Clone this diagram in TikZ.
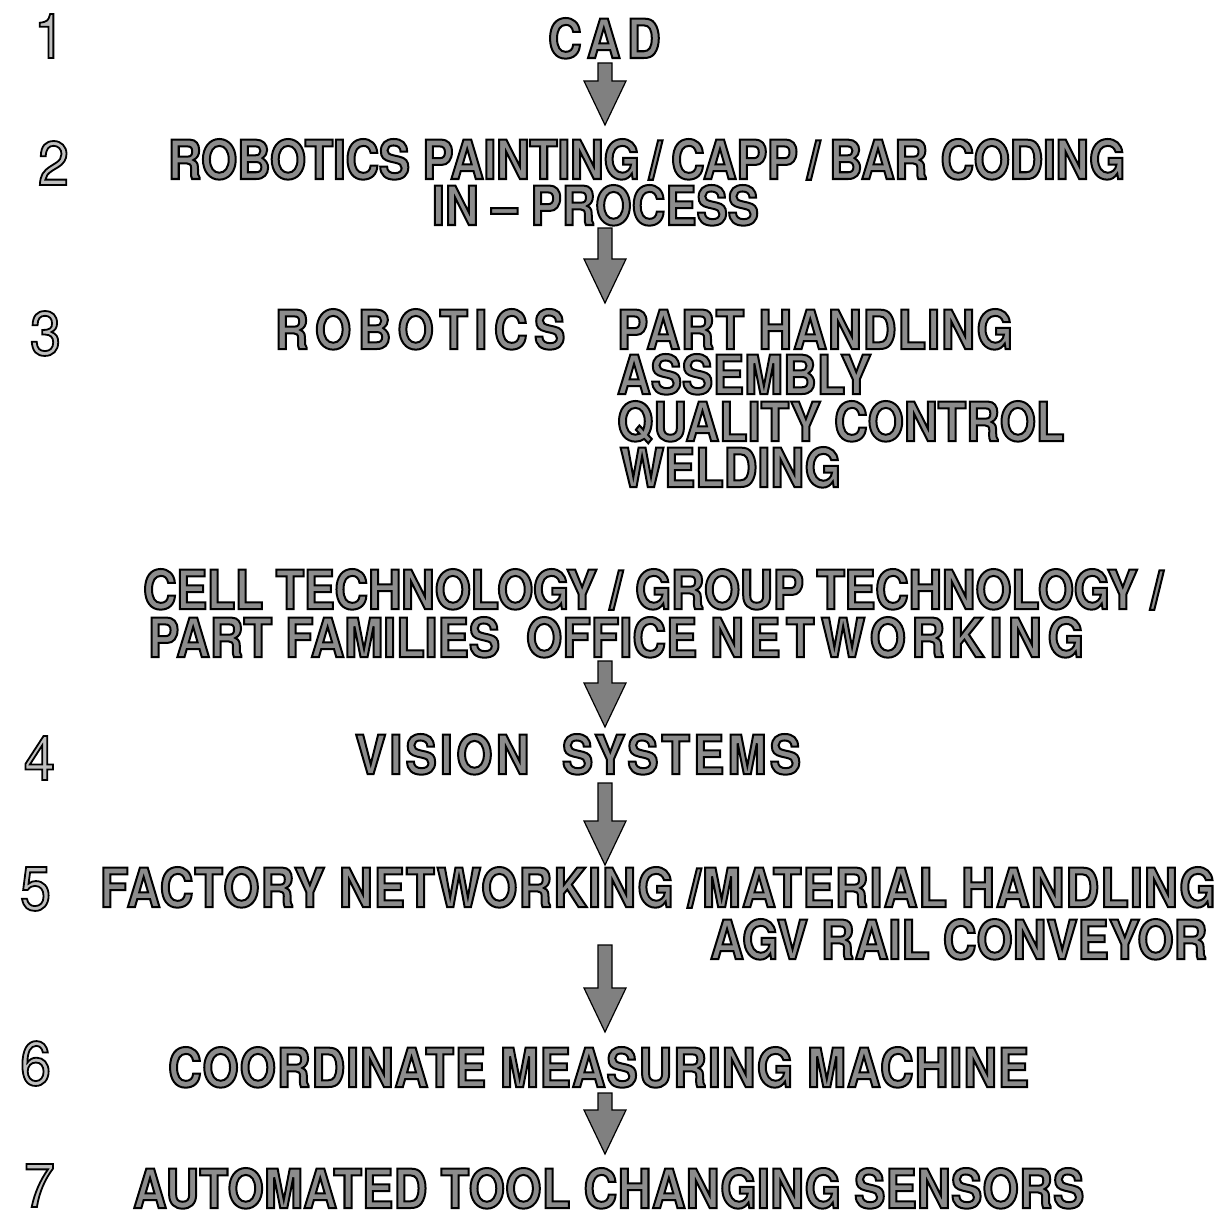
\documentclass[tikz,border=0pt]{standalone}
\usepackage{fontspec}
\setmainfont{TeX Gyre Heros}[FakeStretch=0.865,UprightFont=*-Bold]
\newfontfamily\digitfont{TeX Gyre Heros}[FakeStretch=0.9]
\usetikzlibrary{calc}

% outlined stencil lettering: glyphs filled in the current (grey) colour
% and stroked in black, using the PDF text rendering mode
\newcommand\rimmed[2]{%
  \special{pdf:literal direct 0 G 2 Tr #1 w}#2\special{pdf:literal direct 0 Tr}}
\newcommand\inked[1]{\rimmed{2.0}{#1}}
\newcommand\thininked[1]{\rimmed{1.8}{#1}}
\newcommand\spaced[2]{{\addfontfeatures{LetterSpace=#1}#2}}

% broad block arrow from #1 (tail) to #2 (tip)
\newcommand\fatarrow[2]{%
  \path[fatarrow] let \p1=(#1), \p2=(#2) in
    (\x1-7pt,\y1) -- (\x1-7pt,\y2+44pt) -- (\x1-21pt,\y2+44pt) -- (\x2,\y2)
    -- (\x1+21pt,\y2+44pt) -- (\x1+7pt,\y2+44pt) -- (\x1+7pt,\y1) -- cycle;}

\tikzset{
  lettering/.style={anchor=base west, inner sep=0pt, outer sep=0pt,
    text=black!45, font=\fontsize{54}{58}\selectfont},
  stepnum/.style={anchor=base west, inner sep=0pt, outer sep=0pt,
    text=black!25, font=\digitfont\fontsize{62}{66}\selectfont},
  fatarrow/.style={fill=black!50, draw=black, line width=1.2pt, line join=miter},
}

\begin{document}
\begin{tikzpicture}[x=1pt,y=1pt]
\useasboundingbox (0,0) rectangle (1225,-1220);

% step numbers
\node[stepnum] (n1) at (34,-58)   {\thininked{1}};
\node[stepnum] (n2) at (38,-185)  {\thininked{2}};
\node[stepnum] (n3) at (30,-355)  {\thininked{3}};
\node[stepnum] (n4) at (24,-780)  {\thininked{4}};
\node[stepnum] (n5) at (20,-910)  {\thininked{5}};
\node[stepnum] (n6) at (20,-1085) {\thininked{6}};
\node[stepnum] (n7) at (24,-1207) {\thininked{7}};

% stage texts
\node[lettering] (cad) at (548,-58) {\spaced{12}{\inked{CAD}}};
\node[lettering] (l2a) at (168,-179) {\spaced{-0.8}{\inked{ROBOTICS PAINTING\,/\,CAPP\,/\,BAR CODING}}};
\node[lettering] (l2b) at (432,-225) {\inked{IN -- PROCESS}};
\node[lettering] (rob) at (275,-349) {\spaced{12}{\inked{ROBOTICS}}};
\node[lettering] (l3a) at (617,-349) {\spaced{2}{\inked{PART HANDLING}}};
\node[lettering] (l3b) at (617,-394) {\inked{ASSEMBLY}};
\node[lettering] (l3c) at (617,-441) {\inked{QUALITY CONTROL}};
\node[lettering] (l3d) at (620,-487) {\inked{WELDING}};
\node[lettering] (l4a) at (143,-609) {\spaced{-1}{\inked{CELL TECHNOLOGY / GROUP TECHNOLOGY /}}};
\node[lettering] (l4b) at (148,-657) {\inked{PART FAMILIES\ \ OFFICE \spaced{10}{NETWORKING}}};
\node[lettering] (vis) at (355,-774) {\spaced{6}{\inked{VISION\ \ SYSTEMS}}};
\node[lettering] (l5a) at (100,-907) {\spaced{2}{\inked{FACTORY NETWORKING /MATERIAL HANDLING}}};
\node[lettering] (l5b) at (710,-959) {\inked{AGV RAIL CONVEYOR}};
\node[lettering] (l6)  at (168,-1087) {\spaced{1.7}{\inked{COORDINATE MEASURING MACHINE}}};
\node[lettering] (l7)  at (133,-1208) {\spaced{0.5}{\inked{AUTOMATED TOOL CHANGING SENSORS}}};

% arrow tails and tips on the centre line
\coordinate (a1s) at (605,-63);   \coordinate (a1e) at (605,-125);
\coordinate (a2s) at (605,-228);  \coordinate (a2e) at (605,-303);
\coordinate (a3s) at (605,-661);  \coordinate (a3e) at (605,-727);
\coordinate (a4s) at (605,-783);  \coordinate (a4e) at (605,-865);
\coordinate (a5s) at (605,-945);  \coordinate (a5e) at (605,-1032);
\coordinate (a6s) at (605,-1093); \coordinate (a6e) at (605,-1154);

\fatarrow{a1s}{a1e}
\fatarrow{a2s}{a2e}
\fatarrow{a3s}{a3e}
\fatarrow{a4s}{a4e}
\fatarrow{a5s}{a5e}
\fatarrow{a6s}{a6e}
\end{tikzpicture}
\end{document}
